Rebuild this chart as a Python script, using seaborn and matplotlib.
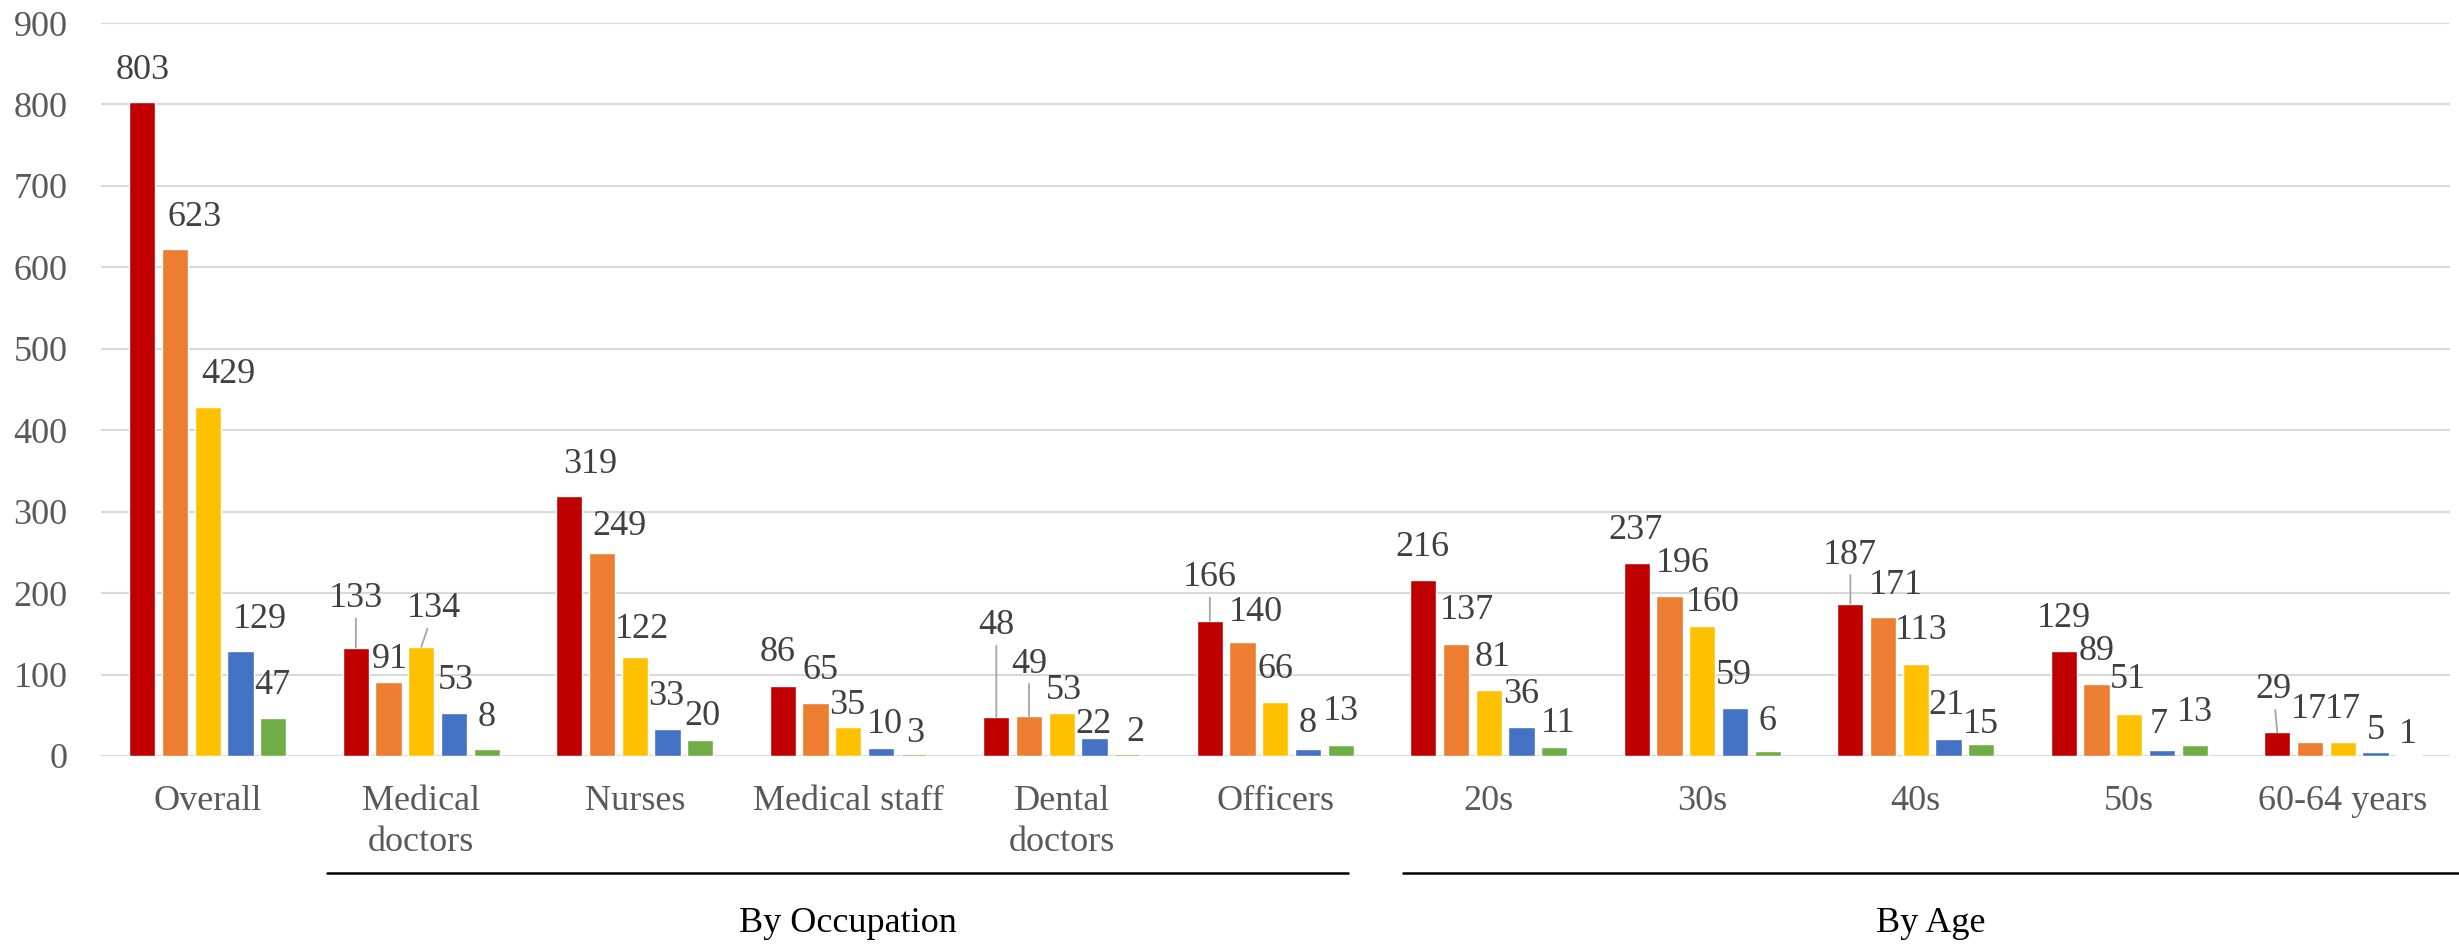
import numpy as np
import pandas as pd
import matplotlib
matplotlib.use("Agg")
import matplotlib.pyplot as plt
import matplotlib.transforms as mtransforms
import seaborn as sns

# categories along the x axis
groups = ["Overall", "Medical\ndoctors", "Nurses", "Medical staff", "Dental\ndoctors",
          "Officers", "20s", "30s", "40s", "50s", "60-64 years"]
series_names = ["S1", "S2", "S3", "S4", "S5"]

# values per series (one entry per group)
s1 = [803, 133, 319, 86, 48, 166, 216, 237, 187, 129, 29]
s2 = [623, 91, 249, 65, 49, 140, 137, 196, 171, 89, 17]
s3 = [429, 134, 122, 35, 53, 66, 81, 160, 113, 51, 17]
s4 = [129, 53, 33, 10, 22, 8, 36, 59, 21, 7, 5]
s5 = [47, 8, 20, 3, 2, 13, 11, 6, 15, 13, 1]

colors = ["#C00000", "#ED7D31", "#FFC000", "#4472C4", "#70AD47"]

# label offsets in pixels (dx, dy) from the top of each bar, per group, per series
label_offsets = [
    [(0, 32), (20, 31), (21, 32), (19, 31.5), (-1, 32)],
    [(0, 49), (1.5, 22), (13, 38), (2, 32), (0, 32)],
    [(21, 32), (17, 27), (7, 27), (-1.5, 33), (2, 23)],
    [(-5, 33), (5, 32.5), (-1, 21.5), (3.7, 23.5), (2, 20)],
    [(0, 91), (0, 52), (2, 22.5), (-1, 13.5), (8, 21.5)],
    [(0, 43), (13, 29.5), (0, 32.5), (0, 25.5), (0, 33.5)],
    [(-1, 32.5), (10.5, 33.5), (4, 32.5), (0, 32.5), (4, 24)],
    [(-1, 32.5), (13.5, 32.5), (11, 23.5), (-1, 32.5), (0, 30)],
    [(0, 48.5), (12.5, 31.5), (5, 33.5), (-2, 33.5), (0, 19.5)],
    [(0, 32.5), (0, 32.5), (-1.5, 34.5), (-3, 25.5), (0, 32.5)],
    [(-4, 42.5), (-1, 32.5), (0, 32.5), (0, 21.5), (0, 20.5)],
]
# labels drawn with a leader line (group index, series index)
leaders = {(1, 0), (1, 2), (4, 0), (4, 1), (5, 0), (8, 0), (10, 0)}

values = [s1, s2, s3, s4, s5]
df = pd.DataFrame({
    "group": np.tile(groups, len(series_names)),
    "series": np.repeat(series_names, len(groups)),
    "count": np.concatenate(values),
})

sns.set_theme(style="white")
plt.rcParams["font.family"] = ["Liberation Serif", "DejaVu Serif"]

W, H = 2459, 946
fig = plt.figure(figsize=(W / 100, H / 100), dpi=100)
ax = fig.add_axes([101 / W, 1 - 756 / H, (2449.5 - 101) / W, (756 - 23) / H])

sns.barplot(data=df, x="group", y="count", hue="series", order=groups, hue_order=series_names,
            palette=colors, width=0.766, gap=0.2, edgecolor="white", linewidth=1,
            saturation=1, legend=False, ax=ax)

ax.set_xlim(-0.5, len(groups) - 0.5)
ax.set_ylim(0, 900)
ax.set_yticks(range(0, 901, 100))
ax.yaxis.grid(True, color="#D9D9D9", linewidth=1.5)
ax.set_axisbelow(True)
for sp in ax.spines.values():
    sp.set_visible(False)
ax.set_xlabel("")
ax.set_ylabel("")
ax.tick_params(axis="y", length=0, pad=24, labelsize=26, labelcolor="#595959")
ax.tick_params(axis="x", length=0, pad=21, labelsize=26, labelcolor="#595959")
for t in ax.get_xticklabels():
    t.set_linespacing(1.3)

# data labels
px = 72 / 100
for s_idx, cont in enumerate(ax.containers):
    for g_idx, bar in enumerate(cont.patches):
        h = bar.get_height()
        xc = bar.get_x() + bar.get_width() / 2
        dx, dy = label_offsets[g_idx][s_idx]
        kw = {}
        if (g_idx, s_idx) in leaders:
            kw["arrowprops"] = dict(arrowstyle="-", color="#A6A6A6", lw=1.3, shrinkA=0, shrinkB=0)
        ax.annotate(f"{int(h)}", xy=(xc, h), xytext=(dx * px, dy * px), textcoords="offset points",
                    ha="center", va="center", fontsize=26, color="#404040", **kw)

# group brackets below the axis
trans = mtransforms.blended_transform_factory(ax.transData, fig.transFigure)
line_y = 1 - 873 / H
text_y = 1 - 923 / H
ax.plot([0.56, 5.34], [line_y, line_y], color="black", lw=1.8, transform=trans, clip_on=False)
ax.plot([5.6, 10.54], [line_y, line_y], color="black", lw=1.8, transform=trans, clip_on=False)
ax.text(3.0, text_y, "By Occupation", transform=trans, ha="center", va="center", fontsize=26, color="black")
ax.text(8.07, text_y, "By Age", transform=trans, ha="center", va="center", fontsize=26, color="black")

fig.savefig("out.png", dpi=100, facecolor="white")
